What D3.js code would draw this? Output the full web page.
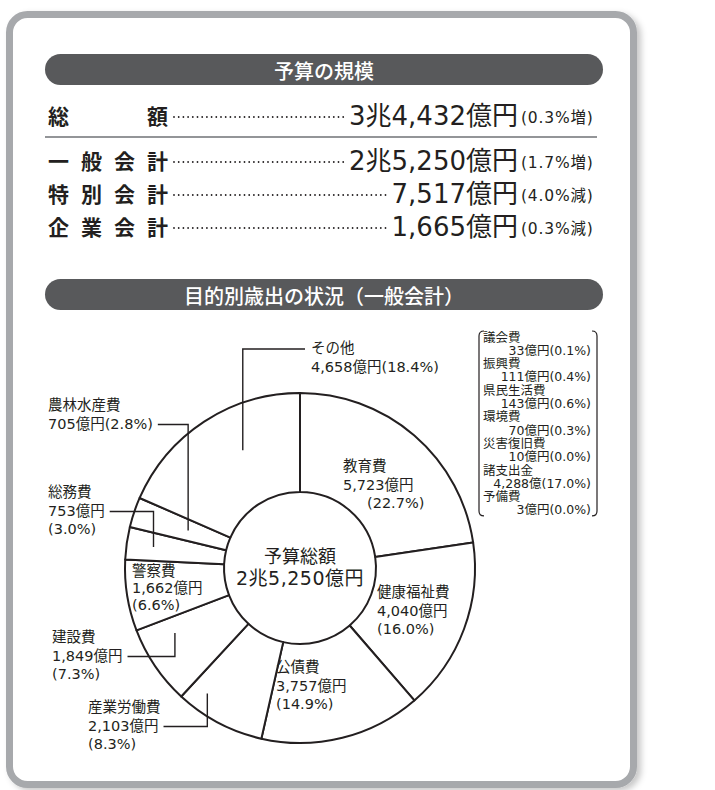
<!DOCTYPE html>
<html>
<head>
<meta charset="utf-8">
<script src="https://cdn.jsdelivr.net/npm/d3@7"></script>
<style>
    body { margin: 0; background: #fff; }
    svg { display: block; }
    text { font-family: "DejaVu Sans", "Noto Sans CJK JP", sans-serif; fill: #231f20; }
</style>
</head>
<body>
<svg id="chart" width="715" height="790"></svg>
<script>
// 予算の規模
const summaryNames = ["総額", "一般会計", "特別会計", "企業会計"];
const summaryAmounts = ["3兆4,432億円", "2兆5,250億円", "7,517億円", "1,665億円"];
const summaryChanges = ["(0.3%増)", "(1.7%増)", "(4.0%減)", "(0.3%減)"];

// 目的別歳出 (一般会計), clockwise from the top
const categories = ["教育費", "健康福祉費", "公債費", "産業労働費", "建設費", "警察費", "総務費", "農林水産費", "その他"];
const amounts = [5723, 4040, 3757, 2103, 1849, 1662, 753, 705, 4658];
const shares = [22.7, 16.0, 14.9, 8.3, 7.3, 6.6, 3.0, 2.8, 18.4];
const centerTitle = "予算総額";
const centerTotal = "2兆5,250億円";

// breakdown of その他
const otherNames = ["議会費", "振興費", "県民生活費", "環境費", "災害復旧費", "諸支出金", "予備費"];
const otherAmounts = [33, 111, 143, 70, 10, 4288, 3];
const otherUnits = ["億円", "億円", "億円", "億円", "億円", "億", "億円"];
const otherShares = [0.1, 0.4, 0.6, 0.3, 0.0, 17.0, 0.0];

const ink = "#231f20";
const fmt = d3.format(",");
const svg = d3.select("#chart");

// card with shadow
const defs = svg.append("defs");
defs.append("filter").attr("id", "shadow")
    .attr("x", "-5%").attr("y", "-5%").attr("width", "115%").attr("height", "115%")
  .append("feDropShadow")
    .attr("dx", 4).attr("dy", 3).attr("stdDeviation", 3)
    .attr("flood-color", "#000").attr("flood-opacity", 0.22);

svg.append("rect")
    .attr("x", 9.5).attr("y", 14.5).attr("width", 624).attr("height", 770).attr("rx", 18)
    .attr("fill", "#fff").attr("stroke", "#a7a9ac").attr("stroke-width", 7)
    .attr("filter", "url(#shadow)");

// dark header pills
function pill(y, label) {
    svg.append("rect")
        .attr("x", 45).attr("y", y).attr("width", 558).attr("height", 31).attr("rx", 15.5)
        .attr("fill", "#58595b");
    svg.append("text")
        .attr("x", 324).attr("y", y + 16)
        .attr("text-anchor", "middle").attr("dominant-baseline", "central")
        .style("fill", "#fff").style("font-size", "20px")
        .style("font-family", "'Noto Sans CJK JP'").style("font-weight", 500)
        .text(label);
}
pill(54, "予算の規模");
pill(279, "目的別歳出の状況（一般会計）");

// summary rows
const rowY = [115, 160, 193, 226];
const labelX = d3.scalePoint().range([48, 147]);

summaryNames.forEach((name, i) => {
    const y = rowY[i];
    const chars = Array.from(name);
    labelX.domain(d3.range(chars.length));
    chars.forEach((c, j) => {
        svg.append("text")
            .attr("x", labelX(j)).attr("y", y)
            .attr("dominant-baseline", "central")
            .style("font-family", "'Noto Sans CJK JP'")
            .style("font-size", "21px").style("font-weight", 700)
            .text(c);
    });

    const amt = svg.append("text")
        .attr("x", 518).attr("y", y + 1)
        .attr("text-anchor", "end").attr("dominant-baseline", "central")
        .style("font-size", "26px")
        .text(summaryAmounts[i]);

    svg.append("text")
        .attr("x", 521).attr("y", y + 3)
        .attr("dominant-baseline", "central")
        .style("font-size", "15.5px").style("letter-spacing", "0.8px")
        .text(summaryChanges[i]);

    // dotted leader
    const dotEnd = 518 - amt.node().getComputedTextLength() - 4;
    const dots = d3.range(174, dotEnd, 4.7);
    svg.selectAll(null).data(dots).join("circle")
        .attr("cx", d => d).attr("cy", y + 2).attr("r", 0.9)
        .attr("fill", ink);
});

svg.append("line")
    .attr("x1", 45).attr("x2", 597).attr("y1", 137).attr("y2", 137)
    .attr("stroke", "#939598").attr("stroke-width", 2);

// pie
const cx = 300, cy = 568, rOuter = 175, rInner = 76;
const data = categories.map((c, i) => ({ name: c, amount: amounts[i], share: shares[i] }));
const pie = d3.pie().sort(null).value(d => d.amount);
const arcs = pie(data);
const arc = d3.arc().innerRadius(rInner).outerRadius(rOuter);

const g = svg.append("g").attr("transform", `translate(${cx},${cy})`);
g.selectAll("path.slice").data(arcs).join("path")
    .attr("class", "slice")
    .attr("d", arc)
    .attr("fill", "#fff").attr("stroke", ink).attr("stroke-width", 2)
    .attr("stroke-linejoin", "round");

g.append("text").attr("y", -12).attr("text-anchor", "middle").attr("dominant-baseline", "central")
    .style("font-size", "18px").text(centerTitle);
g.append("text").attr("y", 10).attr("text-anchor", "middle").attr("dominant-baseline", "central")
    .style("font-size", "19px").style("letter-spacing", "0.5px").text(centerTotal);

// label placement (lines: 2 = name / amount+share, 3 = name / amount / share)
const layout = {
    "教育費":     { x: 343, y: 466, lines: 3, shareDx: 24 },
    "健康福祉費": { x: 377, y: 592, lines: 3, shareDx: 0 },
    "公債費":     { x: 276, y: 667, lines: 3, shareDx: 0 },
    "警察費":     { x: 132, y: 571, lines: 3, shareDx: 0, lh: 17 },
    "総務費":     { x: 48,  y: 492, lines: 3, shareDx: 0, leader: { line: 1, frac: 0.5, r: 148 } },
    "農林水産費": { x: 48,  y: 405, lines: 2, shareDx: 0, leader: { line: 1, frac: 0.5, r: 118 } },
    "建設費":     { x: 52,  y: 637, lines: 3, shareDx: 0, leader: { line: 1, frac: 0.75, r: 141 } },
    "産業労働費": { x: 88,  y: 707, lines: 3, shareDx: 0, leader: { line: 1, frac: 0.79, r: 156 } },
    "その他":     { x: 311, y: 348, lines: 2, shareDx: 0, leader: { line: 0, frac: 0.61, r: 131, right: true } }
};

arcs.forEach(a => {
    const d = a.data;
    const L = layout[d.name];
    const lh = L.lh || 18.5;
    const amountStr = fmt(d.amount) + "億円";
    const shareStr = "(" + d.share.toFixed(1) + "%)";
    const lines = L.lines === 2 ? [d.name, amountStr + shareStr] : [d.name, amountStr, shareStr];

    const texts = lines.map((t, k) => svg.append("text")
        .attr("x", L.x + (k === 2 ? L.shareDx : 0))
        .attr("y", L.y + k * lh)
        .attr("dominant-baseline", "central")
        .style("font-size", "14.5px")
        .text(t));

    if (L.leader) {
        const ld = L.leader;
        const ang = a.startAngle + (a.endAngle - a.startAngle) * ld.frac;
        const ex = cx + ld.r * Math.sin(ang);
        const ey = cy - ld.r * Math.cos(ang);
        const ly = L.y + ld.line * lh + 1;
        const hx = ld.right ? L.x - 6
            : L.x + texts[ld.line].node().getComputedTextLength() + 5;
        svg.append("path")
            .attr("d", d3.line()([[hx, ly], [ex, ly], [ex, ey]]))
            .attr("fill", "none").attr("stroke", ink).attr("stroke-width", 1.4);
    }
});

// bracketed breakdown of その他
const bx0 = 479, bx1 = 597, by0 = 331, blh = 13.3;
const nLines = otherNames.length * 2;
const by1 = by0 + (nLines - 1) * blh + 12;
const bracket = (x, dir) => d3.path();
[[bx0, 1], [bx1, -1]].forEach(([x, dir]) => {
    const p = d3.path();
    p.moveTo(x + dir * 5, by0);
    p.quadraticCurveTo(x, by0, x, by0 + 5);
    p.lineTo(x, by1 - 5);
    p.quadraticCurveTo(x, by1, x + dir * 5, by1);
    svg.append("path").attr("d", p.toString())
        .attr("fill", "none").attr("stroke", ink).attr("stroke-width", 1.2);
});

otherNames.forEach((n, i) => {
    const y = by0 + 6 + i * 2 * blh;
    svg.append("text").attr("x", 483).attr("y", y)
        .attr("dominant-baseline", "central").style("font-size", "12.5px").text(n);
    svg.append("text").attr("x", 591).attr("y", y + blh)
        .attr("text-anchor", "end").attr("dominant-baseline", "central")
        .style("font-size", "12.5px")
        .text(fmt(otherAmounts[i]) + otherUnits[i] + "(" + otherShares[i].toFixed(1) + "%)");
});
</script>
</body>
</html>
